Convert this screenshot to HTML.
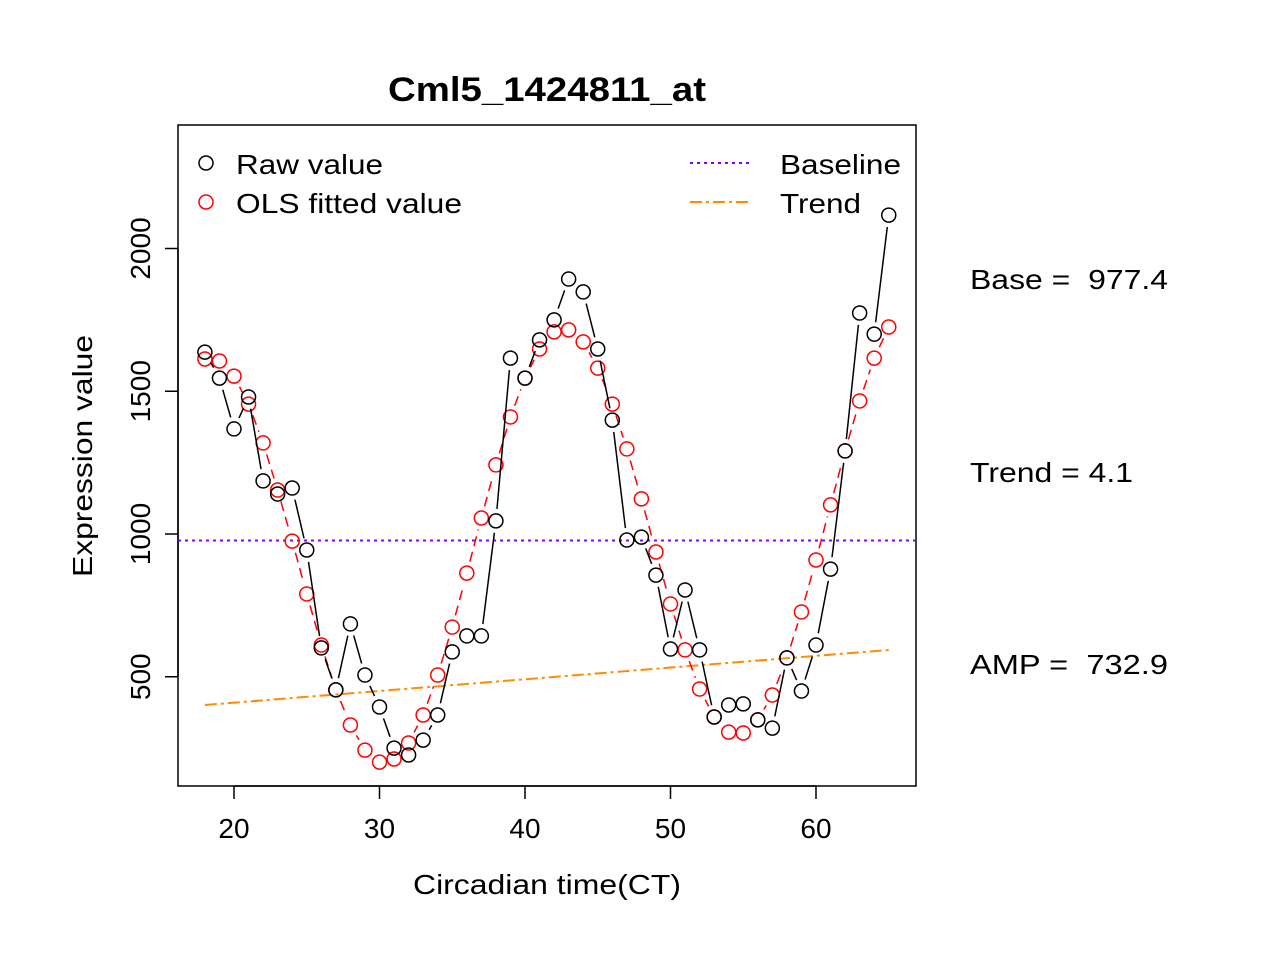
<!DOCTYPE html>
<html><head><meta charset="utf-8"><style>
body{margin:0;background:#fff}
svg{font-family:"Liberation Sans",Arial,sans-serif}
</style></head><body>
<svg id="c" width="1276" height="960" viewBox="0 0 1276 960">
<rect width="1276" height="960" fill="#fff"/>
<text x="388" y="101" font-size="34" font-weight="bold" textLength="318" lengthAdjust="spacingAndGlyphs">Cml5_1424811_at</text>
<rect x="178" y="125" width="738" height="661" fill="none" stroke="#000" stroke-width="1.5"/>
<g id="xaxis"></g>
<g id="yaxis"></g>
<text x="413" y="894" font-size="28" textLength="268" lengthAdjust="spacingAndGlyphs">Circadian time(CT)</text>
<text transform="translate(92,577) rotate(-90)" font-size="28" textLength="242" lengthAdjust="spacingAndGlyphs">Expression value</text>
<g id="marks"></g>
<g>
<circle cx="206" cy="163" r="7" fill="none" stroke="#000" stroke-width="1.5"/>
<text x="236" y="174" font-size="28" textLength="147" lengthAdjust="spacingAndGlyphs">Raw value</text>
<circle cx="206" cy="202" r="7" fill="none" stroke="#f00" stroke-width="1.5"/>
<text x="236" y="213" font-size="28" textLength="226" lengthAdjust="spacingAndGlyphs">OLS fitted value</text>
<line x1="690" y1="163" x2="750" y2="163" stroke="#8000ff" stroke-width="2" stroke-dasharray="3,4"/>
<text x="780" y="174" font-size="28" textLength="121" lengthAdjust="spacingAndGlyphs">Baseline</text>
<line x1="690" y1="202" x2="750" y2="202" stroke="#ff8c00" stroke-width="2" stroke-dasharray="12,4,3,4"/>
<text x="780" y="213" font-size="28" textLength="81" lengthAdjust="spacingAndGlyphs">Trend</text>
</g>
<text x="970" y="289" font-size="28" xml:space="preserve" textLength="198" lengthAdjust="spacingAndGlyphs">Base =  977.4</text>
<text x="970" y="482" font-size="28" textLength="163" lengthAdjust="spacingAndGlyphs">Trend = 4.1</text>
<text x="970" y="674" font-size="28" xml:space="preserve" textLength="198" lengthAdjust="spacingAndGlyphs">AMP =  732.9</text>
</svg>
<script>
const times=[18,19,20,21,22,23,24,25,26,27,28,29,30,31,32,33,34,35,36,37,38,39,40,41,42,43,44,45,46,47,48,49,50,51,52,53,54,55,56,57,58,59,60,61,62,63,64,65];
const rawValues=[1637,1546,1368,1480,1186,1140,1161,944,601,454,685,506,394,250,226,278,366,587,643,643,1046,1616,1546,1680,1750,1893,1848,1648,1399,979,989,856,597,804,594,359,401,405,349,320,566,450,611,877,1291,1774,1700,2117];
const fittedValues=[1613,1606,1553,1455,1319,1154,975,790,611,454,331,243,201,212,268,366,506,674,863,1056,1242,1410,1546,1648,1708,1715,1673,1581,1455,1298,1123,937,755,594,457,359,306,303,349,436,566,727,909,1102,1291,1466,1616,1725];
const baseline=977.4;
const trendSlope=4.1;
const trendStart=401;
const xTicks=[20,30,40,50,60];
const yTicks=[500,1000,1500,2000];
const NS="http://www.w3.org/2000/svg";
const X=v=>234+(v-20)*14.55;
const Y=v=>534-(v-1000)*0.2855;
function mk(tag,attrs,parent){const e=document.createElementNS(NS,tag);for(const k in attrs)e.setAttribute(k,attrs[k]);parent.appendChild(e);return e;}
const xa=document.getElementById('xaxis'),ya=document.getElementById('yaxis'),m=document.getElementById('marks');
mk('line',{x1:X(xTicks[0]),x2:X(xTicks[xTicks.length-1]),y1:786,y2:786,stroke:'#000','stroke-width':1.5},xa);
xTicks.forEach(t=>{const l=mk('line',{x1:X(t),x2:X(t),y1:786,y2:799,stroke:'#000','stroke-width':1.5},xa);


const tx=mk('text',{x:X(t),y:838,'text-anchor':'middle','font-size':28},xa);tx.textContent=t;

});
mk('line',{x1:178,x2:178,y1:Y(yTicks[0]),y2:Y(yTicks[yTicks.length-1]),stroke:'#000','stroke-width':1.5},ya);
yTicks.forEach(t=>{const l=mk('line',{x1:165,x2:178,y1:Y(t),y2:Y(t),stroke:'#000','stroke-width':1.5},ya);


const tx=mk('text',{transform:`translate(150,${Y(t)}) rotate(-90)`,'text-anchor':'middle','font-size':28},ya);tx.textContent=t;

});
const bl=mk('line',{x1:178,x2:916,y1:Y(baseline),y2:Y(baseline),stroke:'#8000ff','stroke-width':2,'stroke-dasharray':'3,4'},m);


const t0=times[0],t1=times[times.length-1];
const tl=mk('line',{x1:X(t0),x2:X(t1),y1:Y(trendStart),y2:Y(trendStart+trendSlope*(t1-t0)),stroke:'#ff8c00','stroke-width':2,'stroke-dasharray':'12,4,3,4'},m);


function series(vals,color,dash,name){
 const r=7,g=r+5;
 for(let i=0;i<times.length-1;i++){
  const x1=X(times[i]),y1=Y(vals[i]),x2=X(times[i+1]),y2=Y(vals[i+1]);
  const d=Math.hypot(x2-x1,y2-y1);if(d<=2*g+2)continue;
  const ux=(x2-x1)/d,uy=(y2-y1)/d;
  const s=mk('line',{x1:x1+ux*g,y1:y1+uy*g,x2:x2-ux*g,y2:y2-uy*g,stroke:color,'stroke-width':1.5,'stroke-dasharray':dash},m);
  
  
 }
 vals.forEach((v,i)=>{const c=mk('circle',{cx:X(times[i]),cy:Y(v),r:r,fill:'none',stroke:color,'stroke-width':1.5},m);
 
 });
}
series(fittedValues,'#f00','10,6','ols-fitted');
series(rawValues,'#000','none','raw');
</script>
</body></html>
